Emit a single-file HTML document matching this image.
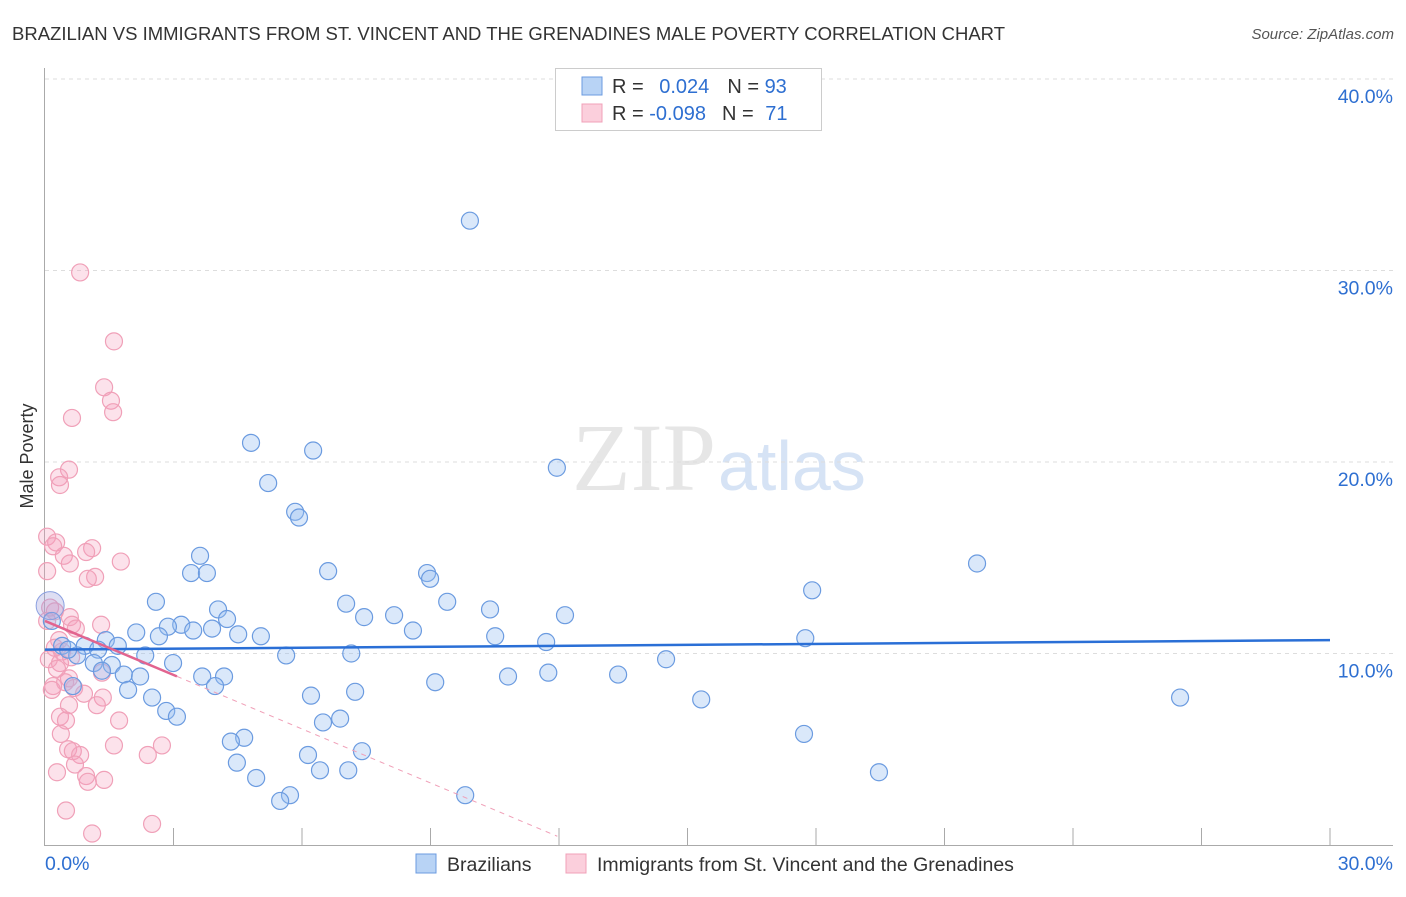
<!DOCTYPE html>
<html><head><meta charset="utf-8"><style>
body{margin:0;background:#fff;font-family:"Liberation Sans",sans-serif}
</style></head><body>
<svg id="chart" width="1406" height="892" xmlns="http://www.w3.org/2000/svg" font-family="Liberation Sans, sans-serif">
<text x="12" y="40" font-size="18.5" fill="#333">BRAZILIAN VS IMMIGRANTS FROM ST. VINCENT AND THE GRENADINES MALE POVERTY CORRELATION CHART</text>
<text x="1394" y="39" font-size="15" fill="#555" font-style="italic" text-anchor="end">Source: ZipAtlas.com</text>
<text x="716" y="490" font-size="96" text-anchor="end" fill="#e6e6e6" font-family="Liberation Serif, serif">ZIP</text>
<text x="718" y="490" font-size="70" fill="#d6e3f5">atlas</text>
<text transform="translate(33,456) rotate(-90)" font-size="18" fill="#333" text-anchor="middle">Male Poverty</text>
<g id="grid"></g><g id="axes"></g><g id="marks"></g>
<g>
<rect x="555.5" y="68.5" width="266" height="62" fill="#fff" stroke="#ccc"/>
<rect x="582" y="77" width="20" height="18" fill="#b8d3f5" stroke="#6b9be0"/>
<rect x="582" y="104" width="20" height="18" fill="#fbcfdc" stroke="#f0a0b8"/>
<text x="612" y="93" font-size="20" fill="#333">R = <tspan fill="#2e6fd1" dx="10">0.024</tspan><tspan dx="18" fill="#333">N = </tspan><tspan fill="#2e6fd1">93</tspan></text>
<text x="612" y="120" font-size="20" fill="#333">R = <tspan fill="#2e6fd1">-0.098</tspan><tspan dx="16" fill="#333">N = </tspan><tspan fill="#2e6fd1" dx="6">71</tspan></text>
</g>
<g>
<rect x="416" y="854" width="20" height="19" fill="#b8d3f5" stroke="#6b9be0"/>
<text x="447" y="871" font-size="19.5" fill="#333">Brazilians</text>
<rect x="566" y="854" width="20" height="19" fill="#fbcfdc" stroke="#f0a0b8"/>
<text x="597" y="871" font-size="19.5" fill="#333">Immigrants from St. Vincent and the Grenadines</text>
</g>
</svg>
<script>
const xTicks=[0,30];
const yTicks=[10,20,30,40];
const blueX=[9.92,4.81,6.26,11.95,5.21,5.84,5.93,3.62,3.41,3.78,6.61,8.92,8.99,21.76,17.91,2.59,4.04,7.03,9.39,10.39,12.14,8.15,7.45,4.25,3.18,2.87,3.9,3.46,2.13,2.66,4.51,5.04,8.59,10.51,11.7,17.75,1.42,1.7,0.93,0.4,1.24,0.75,2.34,5.63,7.15,14.5,1.14,1.56,2.99,1.33,1.84,2.22,3.67,4.18,10.81,11.75,13.38,9.11,0.65,1.94,3.97,7.24,6.21,2.5,15.32,26.5,2.83,3.08,6.89,6.49,17.72,4.65,4.34,6.14,7.4,4.48,4.93,6.42,7.08,19.47,5.72,5.49,9.81,0.16,0.54];
const blueY=[32.6,21.0,20.6,19.7,18.9,17.4,17.1,15.1,14.2,14.2,14.3,14.2,13.9,14.7,13.3,12.7,12.3,12.6,12.7,12.3,12.0,12.0,11.9,11.8,11.5,11.4,11.3,11.2,11.1,10.9,11.0,10.9,11.2,10.9,10.6,10.8,10.7,10.4,10.4,10.4,10.2,9.9,9.9,9.9,10.0,9.7,9.5,9.4,9.5,9.1,8.9,8.8,8.8,8.8,8.8,9.0,8.9,8.5,8.3,8.1,8.3,8.0,7.8,7.7,7.6,7.7,7.0,6.7,6.6,6.4,5.8,5.6,5.4,4.7,4.9,4.3,3.5,3.9,3.9,3.8,2.6,2.3,2.6,11.7,10.2];
const pinkX=[0.82,1.61,1.38,1.54,1.59,0.63,0.56,0.33,0.35,0.05,0.26,0.19,1.1,0.96,0.44,1.77,0.58,0.05,1.17,1.0,0.12,0.23,0.58,0.63,0.05,1.31,0.72,0.33,0.23,0.4,0.09,0.61,0.35,0.28,1.33,0.56,0.47,0.19,0.68,0.16,0.91,1.35,1.21,0.56,0.35,0.49,1.73,0.37,1.61,2.73,0.54,0.65,0.82,2.4,0.7,0.28,0.96,1.0,1.38,0.49,2.5,1.1];
const pinkY=[29.9,26.3,23.9,23.2,22.6,22.3,19.6,19.2,18.8,16.1,15.8,15.6,15.5,15.3,15.1,14.8,14.7,14.3,14.0,13.9,12.4,12.2,11.9,11.5,11.7,11.5,11.3,10.7,10.3,10.1,9.7,9.8,9.5,9.2,9.0,8.7,8.5,8.3,8.2,8.1,7.9,7.7,7.3,7.3,6.7,6.5,6.5,5.8,5.2,5.2,5.0,4.9,4.7,4.7,4.2,3.8,3.6,3.3,3.4,1.8,1.1,0.6];
const blueTrend=[10.2,0.0167];
const pinkTrend=[11.7,-0.94,3.08,11.96];
const NS="http://www.w3.org/2000/svg";
const X0=45,X1=1330,Y0=845,YPX=19.15;
const sx=v=>X0+(X1-X0)*v/30, sy=v=>Y0-v*YPX;
function mk(tag,attrs,parent){const e=document.createElementNS(NS,tag);for(const k in attrs)e.setAttribute(k,attrs[k]);document.getElementById(parent).appendChild(e);return e;}
yTicks.forEach(t=>{
  const g=mk('line',{x1:45,x2:1393,y1:sy(t),y2:sy(t),stroke:'#ddd','stroke-dasharray':'4,4'},'grid');
  
  
  const l=mk('text',{x:1393,y:sy(t)+24,'font-size':19.5,fill:'#2e6fd1','text-anchor':'end'},'grid');
  l.textContent=t.toFixed(1)+'%';
  
  
});
const ax=mk('line',{x1:44.5,x2:44.5,y1:68,y2:845,stroke:'#aaa'},'axes');


const bx=mk('line',{x1:44,x2:1393,y1:845.5,y2:845.5,stroke:'#aaa'},'axes');


for(let i=1;i<=10;i++){const x=X0+(X1-X0)*i/10;
  const t=mk('line',{x1:x,x2:x,y1:828,y2:845,stroke:'#aaa'},'axes');
  
  }
xTicks.forEach((t,i)=>{
  const l=mk('text',{x:i==0?45:1393,y:870,'font-size':19.5,fill:'#2e6fd1','text-anchor':i==0?'start':'end'},'axes');
  l.textContent=t.toFixed(1)+'%';
  
  
});
pinkX.forEach((v,i)=>{
  const c=mk('circle',{cx:sx(v),cy:sy(pinkY[i]),r:8.5,fill:'rgba(244,160,188,0.3)',stroke:'#f0a0b8','stroke-width':1.2},'marks');
  
  
});
blueX.forEach((v,i)=>{
  const c=mk('circle',{cx:sx(v),cy:sy(blueY[i]),r:8.5,fill:'rgba(150,190,240,0.35)',stroke:'#6b9be0','stroke-width':1.2},'marks');
  
  
});
const big=mk('circle',{cx:sx(0.12),cy:sy(12.5),r:14,fill:'rgba(160,160,220,0.35)',stroke:'#8aa0e0'},'marks');


const bl=mk('line',{x1:sx(0),y1:sy(blueTrend[0]),x2:sx(30),y2:sy(blueTrend[0]+blueTrend[1]*30),stroke:'#2a6fd6','stroke-width':2.5},'marks');


const pe=v=>pinkTrend[0]+pinkTrend[1]*v;
const ps=mk('line',{x1:sx(0),y1:sy(pe(0)),x2:sx(pinkTrend[2]),y2:sy(pe(pinkTrend[2])),stroke:'#e2648f','stroke-width':2.5},'marks');


const pd=mk('line',{x1:sx(pinkTrend[2]),y1:sy(pe(pinkTrend[2])),x2:sx(pinkTrend[3]),y2:sy(pe(pinkTrend[3])),stroke:'#f0a0b8','stroke-width':1,'stroke-dasharray':'5,5'},'marks');


</script>
</body></html>
